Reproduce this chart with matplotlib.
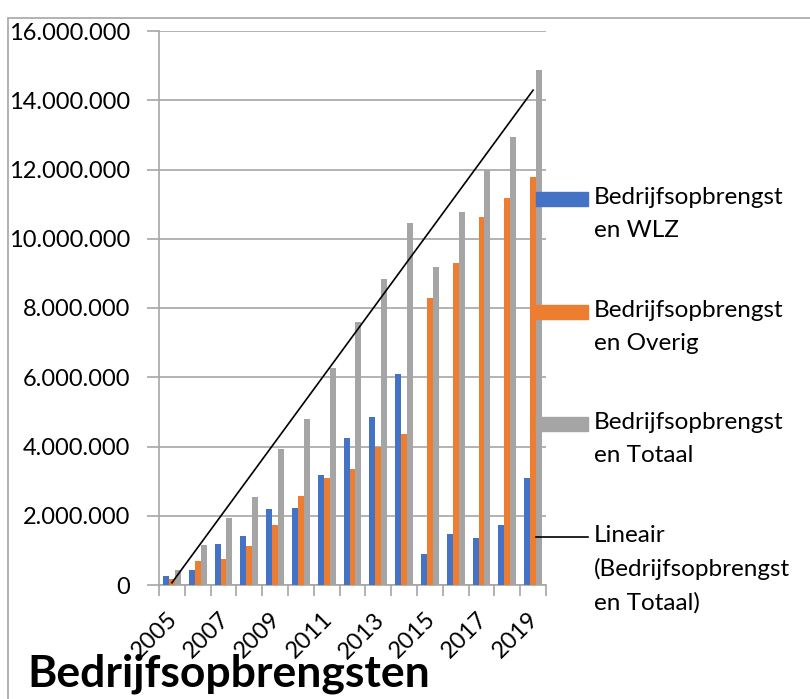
import matplotlib.pyplot as plt
import numpy as np
from matplotlib.patches import Rectangle
from matplotlib.ticker import FuncFormatter
from matplotlib.transforms import ScaledTranslation

years = [str(y) for y in range(2005, 2020)]
wlz = [260000, 433000, 1175000, 1415000, 2195000, 2224000, 3167000, 4245000,
       4840000, 6085000, 895000, 1464000, 1367000, 1742000, 3100000]
overig = [173000, 693000, 751000, 1126000, 1723000, 2580000, 3090000, 3350000,
          3985000, 4350000, 8280000, 9290000, 10620000, 11180000, 11770000]
totaal = [442000, 1146000, 1944000, 2541000, 3919000, 4803000, 6270000, 7590000,
          8830000, 10450000, 9180000, 10760000, 11980000, 12940000, 14880000]
yticks = [0, 2000000, 4000000, 6000000, 8000000, 10000000, 12000000, 14000000, 16000000]

series_names = ['Bedrijfsopbrengst\nen WLZ', 'Bedrijfsopbrengst\nen Overig',
                'Bedrijfsopbrengst\nen Totaal']
trend_name = 'Lineair\n(Bedrijfsopbrengst\nen Totaal)'
colors = ['#4472C4', '#ED7D31', '#A5A5A5']

plt.rcParams['font.family'] = ['Lato', 'DejaVu Sans']

W, H = 810, 699
fig = plt.figure(figsize=(W / 100, H / 100), dpi=100)
ax = fig.add_axes([159 / W, 1 - 585 / H, (546 - 159) / W, (585 - 31) / H])

x = np.arange(len(years))
bw = 0.23
for i, vals in enumerate([wlz, overig, totaal]):
    ax.bar(x + (i - 1) * bw, vals, bw, color=colors[i], zorder=3)

# linear trendline on totaal
k, b = np.polyfit(x, totaal, 1)
ax.plot([x[0], x[-1]], [k * x[0] + b, k * x[-1] + b], color='black', lw=1.2, zorder=4)

ax.set_xlim(-0.5, len(years) - 0.5)
ax.set_ylim(0, 16000000)
ax.set_yticks(yticks)
ax.yaxis.set_major_formatter(FuncFormatter(lambda v, p: f'{int(v):,}'.replace(',', '.')))
ax.tick_params(axis='y', length=9, width=1.2, color='#a6a6a6', pad=12, labelsize=17)
ax.grid(axis='y', color='#a6a6a6', lw=1.2, zorder=0)

ax.set_xticks(np.arange(-0.5, len(years)), labels=[])
ax.set_xticks(x[::2], labels=years[::2], minor=True)
ax.tick_params(axis='x', which='major', length=8, width=1.2, color='#a6a6a6')
ax.tick_params(axis='x', which='minor', length=0, labelsize=17, pad=17)
shift = ScaledTranslation(-5 / 100, 0, fig.dpi_scale_trans)
for lbl in ax.get_xticklabels(minor=True):
    lbl.set_rotation(45)
    lbl.set_ha('right')
    lbl.set_rotation_mode('anchor')
    lbl.set_transform(lbl.get_transform() + shift)

for s in ['top', 'right']:
    ax.spines[s].set_visible(False)
for s in ['left', 'bottom']:
    ax.spines[s].set_color('#a6a6a6')
    ax.spines[s].set_linewidth(1.2)

# legend drawn by hand so the marker sits on the first text line
def px(xp, yp):
    return xp / W, 1 - yp / H

leg_y = [199, 312, 424]
for name, c, yy in zip(series_names, colors, leg_y):
    fig.patches.append(Rectangle(px(536, yy + 7), 52 / W, 14 / H,
                                 transform=fig.transFigure, color=c, zorder=5))
    fig.text(*px(594, yy - 12), name, fontsize=17.5, va='top', ha='left', linespacing=1.68)
fig.lines.append(plt.Line2D([536 / W, 588 / W], [1 - 537 / H] * 2, color='black',
                            lw=1.2, transform=fig.transFigure))
fig.text(*px(594, 537 - 12), trend_name, fontsize=17.5, va='top', ha='left', linespacing=1.68)

# chart border
fig.patches.append(Rectangle(px(8, 740), 1.0, (740 - 18) / H, transform=fig.transFigure,
                             fill=False, edgecolor='#a6a6a6', lw=1.2))

fig.text(*px(27, 687), 'Bedrijfsopbrengsten', fontsize=32, fontweight='bold',
         ha='left', va='baseline')

fig.savefig('out.png', dpi=100)
